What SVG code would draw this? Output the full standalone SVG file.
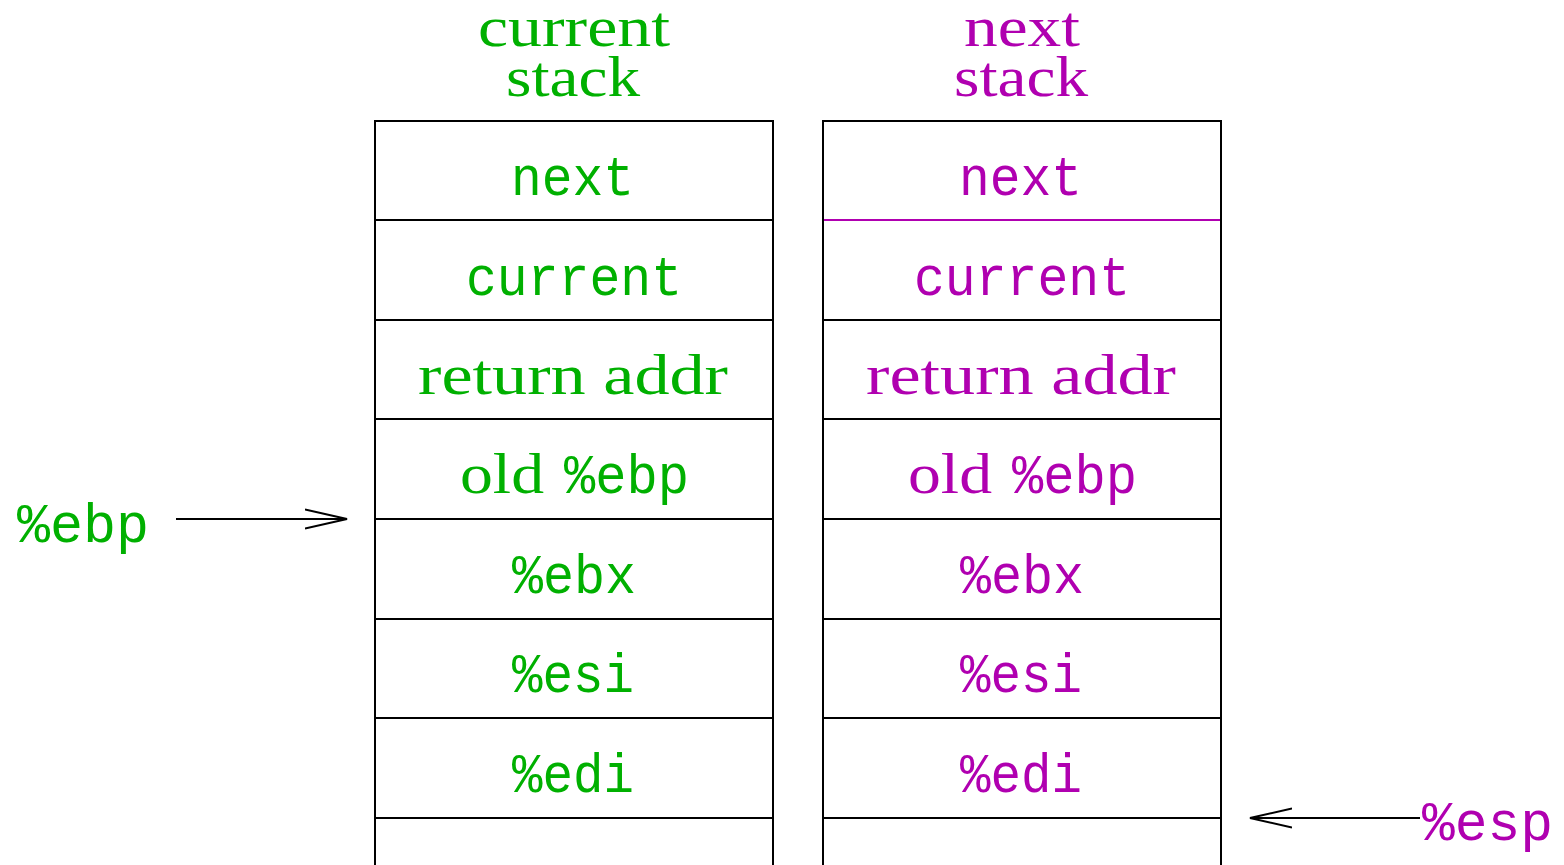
<svg xmlns="http://www.w3.org/2000/svg" width="1564" height="865" viewBox="0 0 1564 865">
  <style>
    .frame { fill: none; stroke: #000; stroke-width: 2; }
    .serif { font-family: "Liberation Serif", "DejaVu Serif", serif; font-size: 57px; }
    .mono { font-family: "Liberation Mono", "DejaVu Sans Mono", monospace; font-size: 56px; }
    .cur { fill: #00b000; }
    .nxt { fill: #b000b0; }
    .conn { fill: none; stroke: #000; stroke-width: 2; }
  </style>
  <defs>
    <marker id="openHead" viewBox="0 0 44 22" refX="42" refY="11" markerWidth="44" markerHeight="22" markerUnits="userSpaceOnUse" orient="auto">
      <path d="M0,1.5 L42,11 L0,20.5" fill="none" stroke="#000" stroke-width="2"/>
    </marker>
  </defs>
  <rect width="1564" height="865" fill="#fff"/>

  <!-- current stack -->
  <g id="current-stack">
    <text class="serif cur" x="574" y="46" text-anchor="middle" textLength="192" lengthAdjust="spacingAndGlyphs">current</text>
    <text class="serif cur" x="573" y="96" text-anchor="middle" textLength="134" lengthAdjust="spacingAndGlyphs">stack</text>
    <path class="frame" d="M375,865 V121 H773 V865 M375,220 H773 M375,320 H773 M375,419 H773 M375,519 H773 M375,619 H773 M375,718 H773 M375,818 H773"/>
    <text class="mono cur" x="511" y="195" textLength="123" lengthAdjust="spacingAndGlyphs">next</text>
    <text class="mono cur" x="466" y="295" textLength="216" lengthAdjust="spacingAndGlyphs">current</text>
    <text class="serif cur" x="418" y="394" textLength="310" lengthAdjust="spacingAndGlyphs">return addr</text>
    <text class="serif cur" x="460" y="493" textLength="84" lengthAdjust="spacingAndGlyphs">old</text>
    <text class="mono cur" x="564" y="493" textLength="125" lengthAdjust="spacingAndGlyphs">%ebp</text>
    <text class="mono cur" x="512" y="593" textLength="124" lengthAdjust="spacingAndGlyphs">%ebx</text>
    <text class="mono cur" x="512" y="692" textLength="122" lengthAdjust="spacingAndGlyphs">%esi</text>
    <text class="mono cur" x="512" y="792" textLength="122" lengthAdjust="spacingAndGlyphs">%edi</text>
  </g>

  <!-- next stack -->
  <g id="next-stack">
    <text class="serif nxt" x="1022" y="46" text-anchor="middle" textLength="116" lengthAdjust="spacingAndGlyphs">next</text>
    <text class="serif nxt" x="1021" y="96" text-anchor="middle" textLength="134" lengthAdjust="spacingAndGlyphs">stack</text>
    <path class="frame" d="M823,865 V121 H1221 V865 M823,320 H1221 M823,419 H1221 M823,519 H1221 M823,619 H1221 M823,718 H1221 M823,818 H1221"/>
    <line x1="824" y1="220" x2="1220" y2="220" stroke="#b000b0" stroke-width="2"/>
    <text class="mono nxt" x="959" y="195" textLength="123" lengthAdjust="spacingAndGlyphs">next</text>
    <text class="mono nxt" x="914" y="295" textLength="216" lengthAdjust="spacingAndGlyphs">current</text>
    <text class="serif nxt" x="866" y="394" textLength="310" lengthAdjust="spacingAndGlyphs">return addr</text>
    <text class="serif nxt" x="908" y="493" textLength="84" lengthAdjust="spacingAndGlyphs">old</text>
    <text class="mono nxt" x="1012" y="493" textLength="125" lengthAdjust="spacingAndGlyphs">%ebp</text>
    <text class="mono nxt" x="960" y="593" textLength="124" lengthAdjust="spacingAndGlyphs">%ebx</text>
    <text class="mono nxt" x="960" y="692" textLength="122" lengthAdjust="spacingAndGlyphs">%esi</text>
    <text class="mono nxt" x="960" y="792" textLength="122" lengthAdjust="spacingAndGlyphs">%edi</text>
  </g>

  <!-- register labels -->
  <g id="ebp-label">
    <text class="mono cur" x="17" y="542" textLength="132" lengthAdjust="spacingAndGlyphs">%ebp</text>
  </g>
  <g id="esp-label">
    <text class="mono nxt" x="1422" y="840" textLength="131" lengthAdjust="spacingAndGlyphs">%esp</text>
  </g>

  <!-- pointers -->
  <g id="connectors">
    <line class="conn" x1="176" y1="519" x2="347" y2="519" marker-end="url(#openHead)"/>
    <line class="conn" x1="1420" y1="818" x2="1250" y2="818" marker-end="url(#openHead)"/>
  </g>
</svg>
